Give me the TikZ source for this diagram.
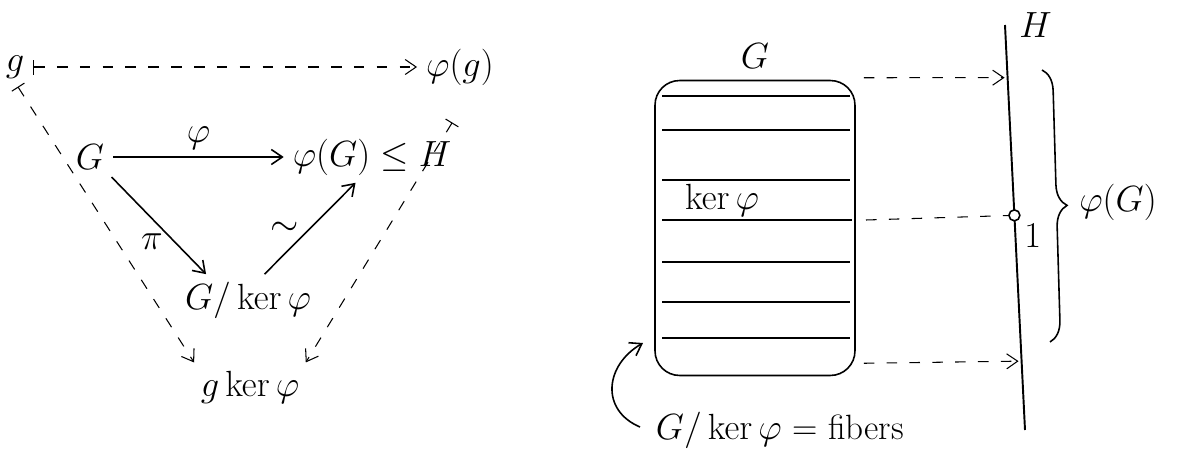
\documentclass[tikz,border=0pt]{standalone}
\usepackage{amsmath,amssymb}
\usepackage{tikz}
\usetikzlibrary{arrows.meta, positioning, calc, decorations.pathreplacing}
\tikzset{
  >={Straight Barb[length=2.2mm,width=3mm]},
  hw/.style={font=\fontsize{20}{24}\selectfont, inner sep=2pt},
  arr/.style={->, line width=0.9pt, shorten >=3pt, shorten <=3pt},
  maparr/.style={{Bar[width=3mm]}->, dashed, dash pattern=on 6pt off 7pt, line width=0.6pt, shorten >=3pt, shorten <=3pt},
  dasharr/.style={->, dashed, dash pattern=on 6pt off 7pt, line width=0.6pt},
  fiber/.style={line width=0.7pt},
  kerline/.style={line width=1.6pt}
}
\begin{document}
\begin{tikzpicture}[x=0.02cm, y=-0.02cm]
  \useasboundingbox (0,0) rectangle (1181,450);
  \node[hw] (g) at (15,67) {$g$};
  \node[hw] (pg) at (460,67) {$\varphi(g)$};
  \node[hw] (G) at (90,157) {$G$};
  \node[hw] (img) at (372,157) {$\varphi(G)\leq H$};
  \node[hw] (Q) at (248,300) {$G/\ker\varphi$};
  \node[hw] (gK) at (250,387) {$g\ker\varphi$};
  \coordinate (tail) at (455,118);
  \draw[arr] (G) -- node[hw,above=2pt] {$\varphi$} (img);
  \draw[arr] (G.south east) -- node[hw,left=4pt,pos=0.65] {$\pi$} (Q.150);
  \draw[arr] (Q.60) -- node[hw,left=4pt] {$\sim$} (img.240);
  \draw[maparr] (g) -- (pg);
  \draw[maparr] (g.south) -- (gK.north west);
  \draw[maparr] (tail) -- (gK.north east);

  \node[draw, line width=0.9pt, rounded corners=14pt, minimum width=4cm, minimum height=5.9cm] (box) at (755,228) {};
  \node[hw, above=4pt of box] (Glab) {$G$};
  \foreach \y in {96,130,180,262,302,338}
    \draw[fiber] (662,\y) -- (850,\y);
  \draw[kerline] (662,220) -- (852,220);
  \node[hw] (ker) at (722,200) {$\ker\varphi$};

  \coordinate (Htop) at (1005,25);
  \coordinate (Hbot) at (1025,430);
  \draw[line width=1.1pt] (Htop) -- (Hbot);
  \node[hw, right=6pt of Htop] (Hlab) {$H$};
  \node[circle, draw, fill=white, line width=0.9pt, inner sep=2.2pt] (one) at ($(Htop)!0.47!(Hbot)$) {};
  \node[hw, below right=0pt and 1pt of one] (onelab) {$1$};
  \coordinate (t1) at ($(Htop)!0.13!(Hbot)$);
  \coordinate (t3) at ($(Htop)!0.83!(Hbot)$);
  \draw[dasharr] ($(box.north east)+(8,-2)$) -- ($(t1)+(-3,0)$);
  \draw[dasharr, -] (866,220) -- (one);
  \draw[dasharr] ($(box.south east)+(8,-13)$) -- ($(t3)+(-3,0)$);
  \draw[line width=0.9pt, decorate, decoration={brace, amplitude=12pt}] (1042,70) -- (1050,342);
  \node[hw] (pG) at (1118,202) {$\varphi(G)$};

  \node[hw, anchor=west] (fib) at (652,430) {$G/\ker\varphi$ = fibers};
  \coordinate (fibtip) at (643,343);
  \draw[arr, shorten <=0pt, shorten >=0pt] ($(fib.west)+(-12,-3)$) .. controls (600,410) and (605,365) .. (fibtip);
\end{tikzpicture}
\end{document}
